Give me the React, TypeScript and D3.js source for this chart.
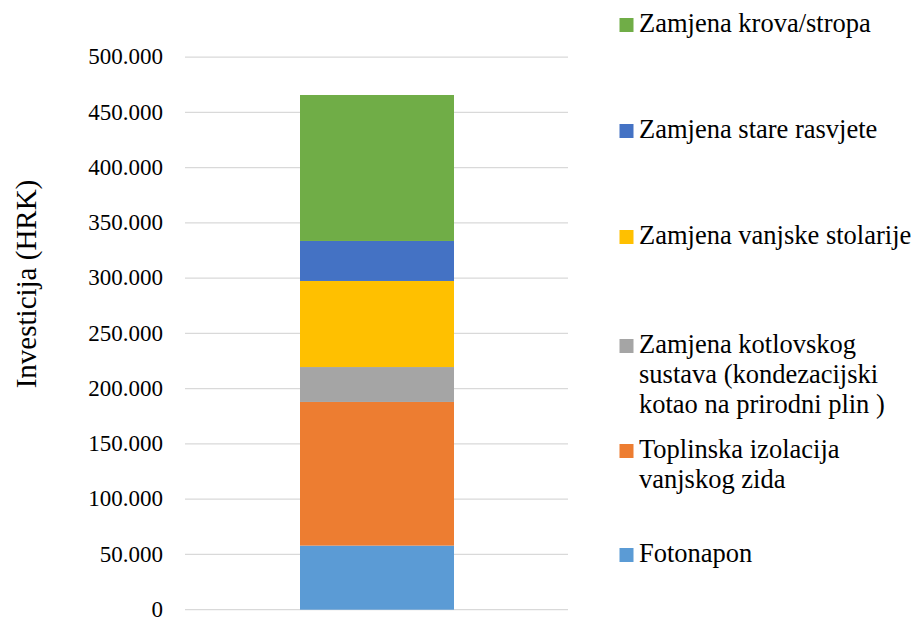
import React from 'react';
import * as d3 from 'd3';

// segments bottom -> top
const categories = [
  'Fotonapon',
  'Toplinska izolacija vanjskog zida',
  'Zamjena kotlovskog sustava (kondezacijski kotao na prirodni plin )',
  'Zamjena vanjske stolarije',
  'Zamjena stare rasvjete',
  'Zamjena krova/stropa',
];
const values = [58000, 130000, 31600, 77900, 36200, 132100];
const colors = ['#5B9BD5', '#ED7D31', '#A5A5A5', '#FFC000', '#4472C4', '#70AD47'];
const legendLines = [
  ['Fotonapon'],
  ['Toplinska izolacija', 'vanjskog zida'],
  ['Zamjena kotlovskog', 'sustava (kondezacijski', 'kotao na prirodni plin )'],
  ['Zamjena vanjske stolarije'],
  ['Zamjena stare rasvjete'],
  ['Zamjena krova/stropa'],
];
const tickValues = [0, 50000, 100000, 150000, 200000, 250000, 300000, 350000, 400000, 450000, 500000];

const W = 915;
const H = 619;

const fmt = (v: number) => (v === 0 ? '0' : d3.format(',')(v).replace(/,/g, '.'));

export default function App() {
  const y = d3.scaleLinear().domain([0, 500000]).range([609.7, 57.2]);

  const stacked = d3.stack<Record<string, number>>().keys(categories)([
    Object.fromEntries(categories.map((c, i) => [c, values[i]])),
  ]);

  // legend: baseline of first line for each item (bottom -> top)
  const legendTop = [562, 458, 353, 244, 138, 32];
  const lineH = 30;

  return (
    <div style={{ position: 'absolute', left: 0, top: 0 }}>
      <svg width={W} height={H} fontFamily="Liberation Serif" style={{ display: 'block', background: '#fff' }}>
        {tickValues.map((t) => (
          <g key={t}>
            <line x1={185} x2={568} y1={y(t)} y2={y(t)} stroke="#d9d9d9" strokeWidth={1.3} />
            <text x={163} y={y(t)} dy="0.31em" textAnchor="end" fontFamily="Liberation Serif" fontSize={23} fill="#000">
              {fmt(t)}
            </text>
          </g>
        ))}
        {stacked.map((s, i) => (
          <rect
            key={s.key}
            x={300}
            width={154}
            y={y(s[0][1])}
            height={y(s[0][0]) - y(s[0][1])}
            fill={colors[i]}
          />
        ))}
        <text
          transform="translate(36,284) rotate(-90)"
          textAnchor="middle"
          fontFamily="Liberation Serif"
          fontSize={29}
          fill="#000"
        >
          Investicija (HRK)
        </text>
        {legendLines.map((lines, i) => (
          <g key={i}>
            <rect x={619.5} y={legendTop[i] - 14} width={14} height={14} fill={colors[i]} />
            <text fontFamily="Liberation Serif" fontSize={26.5} fill="#000">
              {lines.map((l, j) => (
                <tspan key={j} x={639} y={legendTop[i] + j * lineH}>
                  {l}
                </tspan>
              ))}
            </text>
          </g>
        ))}
      </svg>
    </div>
  );
}
